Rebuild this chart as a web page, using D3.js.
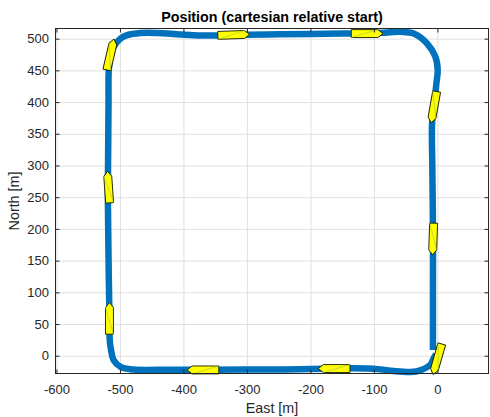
<!DOCTYPE html>
<html>
<head>
<meta charset="UTF-8">
<script src="https://d3js.org/d3.v7.min.js"></script>
<style>
  body { margin: 0; background: #fff; }
  svg text { font-family: "Liberation Sans", Arial, sans-serif; fill: #262626; }
  .grid line { stroke: #e0e0e0; }
  .grid path { display: none; }
  .axis path { display: none; }
  .axis line { stroke: #262626; }
</style>
</head>
<body>
<svg width="490" height="417"></svg>
<script>
// trajectory, clockwise from the start point (East, North in metres)
const east = [-2, -6, -11, -27, -42, -69, -90, -110, -137, -180, -240, -300, -360, -420, -479,
  -499, -510, -514, -516, -516.5, -517.5, -518.5, -519, -518.5, -518, -517.6, -515, -510, -499,
  -488.7, -467.7, -441.4, -404.7, -373, -341.7, -300, -250, -200, -150, -100, -75, -58.3, -37.3,
  -16.2, -3.1, 0.5, -1.6, -5, -8.3, -8, -7, -7, -7];
const north = [2, -4, -14, -23, -25.5, -24, -21.5, -20, -19.7, -20.5, -21.5, -21.8, -22, -22, -21.8,
  -17.7, -7, 8.7, 24, 60, 120, 200, 260, 330, 400, 450, 472, 487, 500.3,
  505.5, 509, 509, 506.6, 505, 505, 506, 507, 507.5, 508, 508.5, 510, 510.7, 508.2,
  492.4, 471.3, 450.3, 429.3, 395, 368.3, 300, 200, 100, 9];

// vessel snapshots: position and heading (deg from north, clockwise)
const boatEast = [0, -162.7, -369.3, -516.5, -518, -515, -320.8, -110.7, -5.5, -6.8];
const boatNorth = [-5.5, -20.2, -22.4, 59, 266, 475, 506, 508, 392, 184];
const boatHeading = [196, 270, 270, 0, 356, 13, 88, 90, 190, 182];

const xTicks = [-600, -500, -400, -300, -200, -100, 0];
const yTicks = [0, 50, 100, 150, 200, 250, 300, 350, 400, 450, 500];

const svg = d3.select("svg");
const pLeft = 55.5, pRight = 488.5, pTop = 28.5, pBottom = 373.5;
const w = pRight - pLeft, h = pBottom - pTop;

const x = d3.scaleLinear().domain([-601.5, 80.5]).range([pLeft, pRight]);
const y = d3.scaleLinear().domain([-28, 516]).range([pBottom, pTop]);

// grid
svg.append("g").attr("class", "grid")
  .attr("transform", `translate(0,${pBottom})`)
  .call(d3.axisBottom(x).tickValues(xTicks).tickSize(-h).tickFormat(""));
svg.append("g").attr("class", "grid")
  .attr("transform", `translate(${pLeft},0)`)
  .call(d3.axisLeft(y).tickValues(yTicks).tickSize(-w).tickFormat(""));

// trajectory
const pts = east.map((e, i) => [e, north[i]]);
const line = d3.line().x(d => x(d[0])).y(d => y(d[1])).curve(d3.curveCatmullRom);
svg.append("path")
  .attr("d", line(pts))
  .attr("fill", "none")
  .attr("stroke", "#0072BD")
  .attr("stroke-width", 6.5)
  .attr("stroke-linejoin", "round");

// boats
const L = 50, W = 12.5, B = 8; // metres
const k = x(1) - x(0);
const hull = [[-L / 2, -W / 2], [L / 2 - B, -W / 2], [L / 2, 0], [L / 2 - B, W / 2], [-L / 2, W / 2]]
  .map(p => [p[0] * k, p[1] * k]);

const boats = svg.append("g").selectAll("g")
  .data(boatEast.map((e, i) => ({ e: e, n: boatNorth[i], hdg: boatHeading[i] })))
  .join("g")
  .attr("transform", d => `translate(${x(d.e)},${y(d.n)}) rotate(${d.hdg - 90})`);

boats.append("polygon")
  .attr("points", hull.map(p => p.join(",")).join(" "))
  .attr("fill", "#ffff00")
  .attr("stroke", "#1a1a00")
  .attr("stroke-width", 0.9)
  .attr("stroke-linejoin", "miter");
boats.append("line")
  .attr("x1", hull[4][0]).attr("y1", hull[4][1])
  .attr("x2", hull[1][0]).attr("y2", hull[1][1])
  .attr("stroke", "#9fbf4f")
  .attr("stroke-width", 0.6);

// axes (box with inward ticks on all sides)
const fmt = d => String(d);
svg.append("g").attr("class", "axis")
  .attr("transform", `translate(0,${pBottom})`)
  .call(d3.axisBottom(x).tickValues(xTicks).tickFormat(fmt).tickSizeInner(-4).tickSizeOuter(0).tickPadding(11))
  .call(g => g.selectAll("text").attr("font-size", 13).attr("font-family", null));
svg.append("g").attr("class", "axis")
  .attr("transform", `translate(${pLeft},0)`)
  .call(d3.axisLeft(y).tickValues(yTicks).tickFormat(fmt).tickSizeInner(-4).tickSizeOuter(0).tickPadding(6.5))
  .call(g => g.selectAll("text").attr("font-size", 13).attr("font-family", null));
svg.append("g").attr("class", "axis")
  .attr("transform", `translate(0,${pTop})`)
  .call(d3.axisTop(x).tickValues(xTicks).tickSizeInner(-4).tickSizeOuter(0).tickFormat(""));
svg.append("g").attr("class", "axis")
  .attr("transform", `translate(${pRight},0)`)
  .call(d3.axisRight(y).tickValues(yTicks).tickSizeInner(-4).tickSizeOuter(0).tickFormat(""));

svg.append("rect")
  .attr("x", pLeft).attr("y", pTop).attr("width", w).attr("height", h)
  .attr("fill", "none").attr("stroke", "#262626").attr("stroke-width", 1);

// labels
svg.append("text")
  .attr("x", (pLeft + pRight) / 2).attr("y", 21.5)
  .attr("text-anchor", "middle")
  .attr("font-size", 14.3).attr("font-weight", "bold")
  .style("fill", "#000")
  .text("Position (cartesian relative start)");
svg.append("text")
  .attr("x", (pLeft + pRight) / 2).attr("y", 413)
  .attr("text-anchor", "middle")
  .attr("font-size", 14.3)
  .text("East [m]");
svg.append("text")
  .attr("transform", `translate(19.3,${(pTop + pBottom) / 2}) rotate(-90)`)
  .attr("text-anchor", "middle")
  .attr("font-size", 14.3)
  .text("North [m]");
</script>
</body>
</html>
